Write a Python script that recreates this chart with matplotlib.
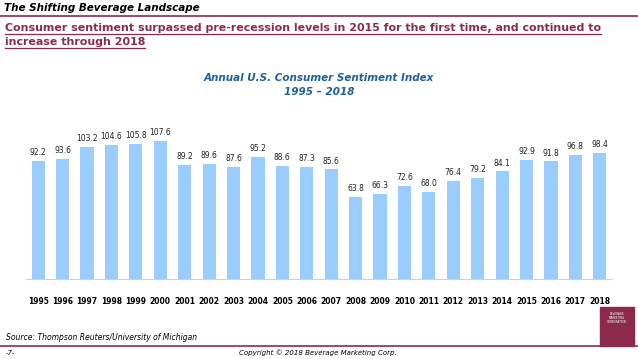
import matplotlib
matplotlib.use("Agg")
import matplotlib.pyplot as plt
from matplotlib.lines import Line2D
from matplotlib.patches import Rectangle

years = [str(y) for y in range(1995, 2019)]
values = [92.2, 93.6, 103.2, 104.6, 105.8, 107.6, 89.2, 89.6, 87.6, 95.2, 88.6, 87.3,
          85.6, 63.8, 66.3, 72.6, 68.0, 76.4, 79.2, 84.1, 92.9, 91.8, 96.8, 98.4]

W, H = 638, 359
MAROON = "#8C2A4B"
BLUE_T = "#1F5F9E"
BAR = "#99CCFF"

fig = plt.figure(figsize=(W / 100, H / 100), dpi=100)
fig.patch.set_facecolor("white")


def fx(px):
    return px / W


def fy(py):
    return 1 - py / H


# header
fig.text(fx(4), fy(8), "The Shifting Beverage Landscape", fontsize=7.5,
         fontweight="bold", style="italic", va="center", ha="left")
fig.add_artist(Line2D([0, 1], [fy(16), fy(16)], color=MAROON, lw=1.2))

sub_lines = ["Consumer sentiment surpassed pre-recession levels in 2015 for the first time, and continued to",
             "increase through 2018"]
fig.canvas.draw()
r = fig.canvas.get_renderer()
for i, s in enumerate(sub_lines):
    yy = 28 + i * 14
    t = fig.text(fx(5), fy(yy), s, fontsize=7.95, fontweight="bold",
                 color=MAROON, va="center", ha="left")
    bb = t.get_window_extent(renderer=r)
    fig.add_artist(Line2D([fx(5), fx(5) + bb.width / W], [fy(yy + 6), fy(yy + 6)],
                          color=MAROON, lw=0.9))

# chart title
fig.text(fx(319), fy(78), "Annual U.S. Consumer Sentiment Index", fontsize=7.5,
         fontweight="bold", style="italic", color=BLUE_T, ha="center", va="center")
fig.text(fx(319), fy(92), "1995 \u2013 2018", fontsize=7.5,
         fontweight="bold", style="italic", color=BLUE_T, ha="center", va="center")

# bars
ax = fig.add_axes([fx(26), fy(279), fx(586), (279 - 109) / H])
x = list(range(len(years)))
ax.bar(x, values, width=0.54, color=BAR, zorder=2)
for xi, v in zip(x, values):
    ax.text(xi, v + 3, f"{v:.1f}", ha="center", va="bottom", fontsize=5.5, color="#222222")
ax.set_xlim(-0.5, len(years) - 0.5)
ax.set_ylim(0, 170 / 1.28)
ax.set_xticks(x)
ax.set_xticklabels(years, fontsize=5.5, fontweight="bold")
ax.tick_params(axis="x", length=0, pad=13)
ax.set_yticks([])
for sp in ["top", "right", "left"]:
    ax.spines[sp].set_visible(False)
ax.spines["bottom"].set_color("#D0D0D0")
ax.spines["bottom"].set_linewidth(0.8)

# footer
fig.text(fx(6), fy(338), "Source: Thompson Reuters/University of Michigan", fontsize=5.5,
         style="italic", va="center", ha="left")
fig.add_artist(Line2D([0, 1], [fy(346), fy(346)], color=MAROON, lw=1.2))
fig.text(fx(6), fy(353), "-7-", fontsize=5, style="italic", va="center", ha="left")
fig.text(fx(318), fy(353), "Copyright \u00a9 2018 Beverage Marketing Corp.", fontsize=5,
         style="italic", va="center", ha="center")

# logo
fig.add_artist(Rectangle((fx(600), fy(346)), fx(34), (346 - 307) / H,
                         transform=fig.transFigure, color=MAROON))
fig.text(fx(617), fy(318), "BEVERAGE\nMARKETING\nCORPORATION", fontsize=2, color="white",
         ha="center", va="center", linespacing=1.1)

fig.savefig("out.png", dpi=100, facecolor="white")
